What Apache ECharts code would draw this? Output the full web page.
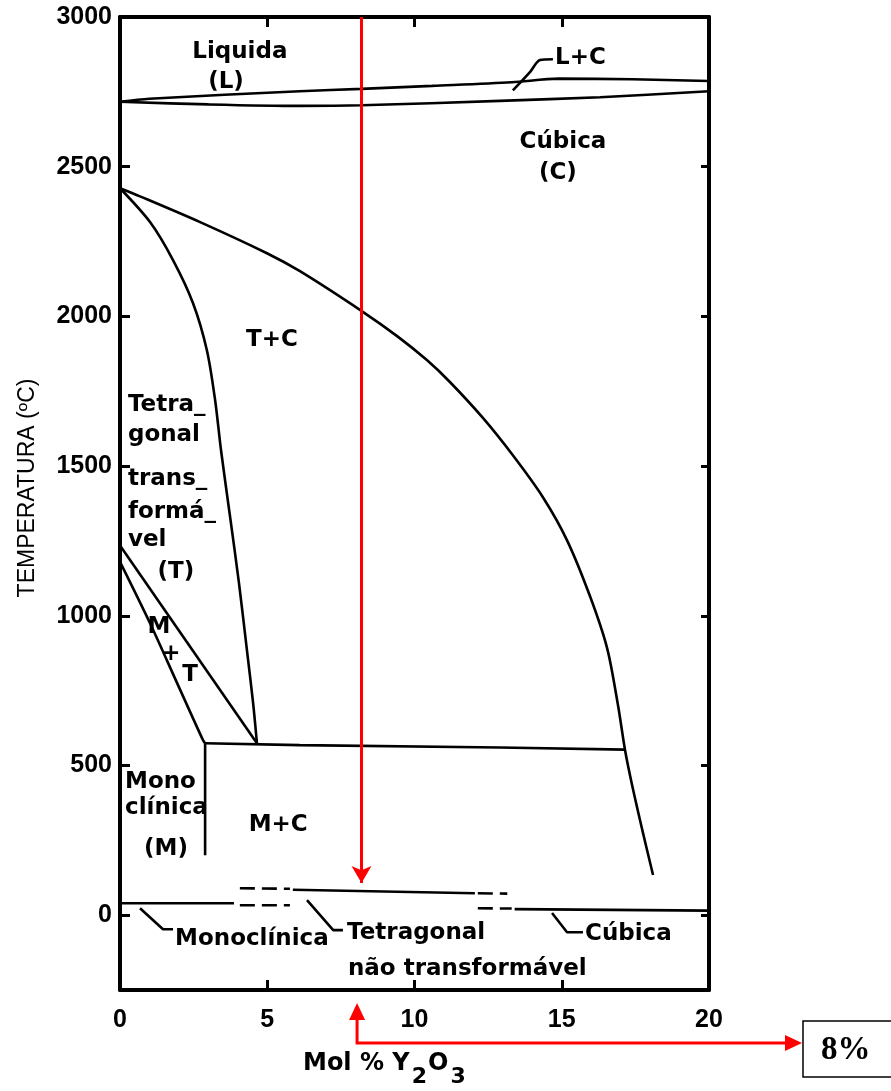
<!DOCTYPE html>
<html lang="pt">
<head>
<meta charset="UTF-8">
<title>Diagrama de fases ZrO2 - Y2O3</title>
<script src="https://cdn.jsdelivr.net/npm/echarts@6/dist/echarts.min.js"></script>
<style>
    html, body { margin: 0; padding: 0; background: #fff; }
    #chart { width: 891px; height: 1091px; }
</style>
</head>
<body>
<div id="chart"></div>
<script>
const xMin = 0, xMax = 20;
const yMin = -250, yMax = 3000;

// liquidus / solidus (faixa L+C)
const liquidus = [[0, 2717], [1, 2727], [6.1, 2752], [8.2, 2760], [10.6, 2770], [13.3, 2782], [14.9, 2794], [17.4, 2792], [20, 2786]];
const solidus = [[0, 2717], [3, 2708], [6.1, 2703], [8.2, 2705], [12.9, 2720], [16.3, 2732], [20, 2752]];

// limite T+C / C
const cubicBoundary = [[0, 2428], [0.68, 2401], [2.72, 2315], [4.99, 2211], [6.11, 2151], [8.22, 2017], [9.41, 1934],
    [10.42, 1854], [11.21, 1780], [12.33, 1660], [13.34, 1536], [14.36, 1396], [15.18, 1252], [15.96, 1065],
    [16.54, 892], [16.91, 701], [17.15, 551], [17.39, 434], [17.76, 274], [18.1, 134]];

// limite T / T+C
const tetraBoundary = [[0, 2428], [1.02, 2315], [1.8, 2188], [2.48, 2044], [2.95, 1887], [3.23, 1720], [3.43, 1553],
    [3.74, 1329], [4.04, 1109], [4.31, 885], [4.52, 708], [4.65, 574]];

// faixa M+T
const mtUpper = [[0, 1235], [4.65, 574]];
const mtLower = [[0, 1180], [1.02, 975], [1.94, 775], [2.82, 584], [2.89, 574]];
const monoVertical = [[2.89, 574], [2.89, 200]];
const eutectoid = [[2.89, 574], [6.1, 568], [12.9, 560], [17.15, 553]];

// linhas de fase metaestável perto de 0 ºC
const monoSolid = [[0, 40], [3.87, 40]];
const monoDashed = [[4.07, 33], [5.77, 33]];
const tetraDashedLeft = [[4.07, 90], [5.77, 88]];
const tetraSolid = [[5.87, 85], [12.05, 73]];
const tetraDashedRight = [[12.15, 73], [13.15, 72]];
const cubicDashed = [[12.15, 23], [13.3, 22]];
const cubicSolid = [[13.4, 20], [20, 15]];

// linhas de chamada dos rótulos
const leaderLC = [[13.34, 2755], [13.92, 2816], [14.26, 2856], [14.7, 2859]];
const leaderMono = [[0.68, 23], [1.46, -47], [1.8, -47]];
const leaderTetra = [[6.35, 50], [7.24, -50], [7.57, -50]];
const leaderCubic = [[14.67, 7], [15.18, -57], [15.72, -57]];

// composição marcada
const markedX = 8.2;
const markedXLow = 8.05;
const markedArrowEnd = 107;

// rótulos das regiões: texto, x, y, alinhamento
const regionLabels = [
    ['Liquida', 4.07, 2882, 'center'],
    ['(L)', 3.6, 2782, 'center'],
    ['L+C', 14.77, 2862, 'left'],
    ['Cúbica', 15.04, 2582, 'center'],
    ['(C)', 14.87, 2478, 'center'],
    ['T+C', 5.16, 1920, 'center'],
    ['Tetra_', 0.27, 1703, 'left'],
    ['gonal', 0.27, 1603, 'left'],
    ['trans_', 0.27, 1456, 'left'],
    ['formá_', 0.27, 1346, 'left'],
    ['vel', 0.27, 1252, 'left'],
    ['(T)', 1.9, 1146, 'center'],
    ['M', 1.32, 962, 'center'],
    ['+', 1.73, 872, 'center'],
    ['T', 2.38, 802, 'center'],
    ['Mono', 0.17, 444, 'left'],
    ['clínica', 0.17, 357, 'left'],
    ['(M)', 1.56, 220, 'center'],
    ['M+C', 5.37, 301, 'center'],
    ['Monoclínica', 1.87, -80, 'left'],
    ['Tetragonal', 7.71, -60, 'left'],
    ['não transformável', 7.74, -180, 'left'],
    ['Cúbica', 15.79, -63, 'left']
];

const labelFont = 'DejaVu Sans';
const numFont = 'Liberation Sans';

function curve(data, smooth, dashed) {
    return {
        type: 'line',
        data: data,
        showSymbol: false,
        silent: true,
        smooth: smooth ? 0.3 : false,
        clip: false,
        lineStyle: { color: '#000', width: 2.6, type: dashed ? [15, 7] : 'solid' }
    };
}

let chart = echarts.init(document.getElementById('chart'), null, { renderer: 'canvas' });

let axisLine = { show: true, onZero: false, lineStyle: { color: '#000', width: 4 } };
let axisTick = { show: true, inside: true, length: 10, lineStyle: { color: '#000', width: 3 } };

let option = {
    animation: false,
    backgroundColor: '#fff',
    grid: { left: 120, right: 182, top: 17, bottom: 101 },
    xAxis: [{
        type: 'value', position: 'bottom', min: xMin, max: xMax, interval: 5,
        axisLine: axisLine, axisTick: axisTick, splitLine: { show: false },
        axisLabel: { color: '#000', fontFamily: numFont, fontWeight: 'bold', fontSize: 25, margin: 18 }
    }, {
        type: 'value', position: 'top', min: xMin, max: xMax, interval: 5,
        axisLine: axisLine, axisTick: axisTick, splitLine: { show: false },
        axisLabel: { show: false }
    }],
    yAxis: [{
        type: 'value', position: 'left', min: yMin, max: yMax, splitNumber: 5,
        axisLine: axisLine, axisTick: axisTick, splitLine: { show: false },
        axisLabel: {
            color: '#000', fontFamily: numFont, fontWeight: 'bold', fontSize: 25, margin: 8,
            showMinLabel: false, formatter: v => String(v)
        }
    }, {
        type: 'value', position: 'right', min: yMin, max: yMax, splitNumber: 5,
        axisLine: axisLine,
        axisTick: { show: true, inside: true, length: 8, lineStyle: { color: '#000', width: 3 } },
        splitLine: { show: false },
        axisLabel: { show: false }
    }],
    series: [
        curve(liquidus, true),
        curve(solidus, true),
        curve(cubicBoundary, true),
        curve(tetraBoundary, true),
        curve(mtUpper, false),
        curve(mtLower, true),
        curve(monoVertical, false),
        curve(eutectoid, false),
        curve(monoSolid, false),
        curve(monoDashed, false, true),
        curve(tetraDashedLeft, false, true),
        curve(tetraSolid, false),
        curve(tetraDashedRight, false, true),
        curve(cubicDashed, false, true),
        curve(cubicSolid, false),
        curve(leaderLC, true),
        curve(leaderMono, false),
        curve(leaderTetra, false),
        curve(leaderCubic, false),
        {
            type: 'scatter',
            silent: true,
            symbolSize: 0,
            itemStyle: { opacity: 1 },
            label: { show: true, color: '#000' },
            data: regionLabels.map(l => ({
                value: [l[1], l[2]],
                label: {
                    show: true, position: [0, 0], formatter: l[0],
                    align: l[3], verticalAlign: 'middle',
                    color: '#000', fontFamily: labelFont, fontWeight: 'bold', fontSize: 23
                }
            })),
            markLine: {
                silent: true,
                symbol: ['none', 'arrow'],
                symbolSize: [15, 17],
                label: { show: false },
                lineStyle: { color: '#ff0000', width: 3, type: 'solid', opacity: 1 },
                data: [[{ coord: [markedX, yMax] }, { coord: [markedX, markedArrowEnd] }]]
            }
        }
    ]
};
chart.setOption(option);

// anotações fora da área do gráfico
let px = chart.convertToPixel({ xAxisIndex: 0 }, markedXLow);
chart.setOption({
    graphic: [
        {
            type: 'text', x: 28, y: 488, rotation: Math.PI / 2,
            style: { text: 'TEMPERATURA (ºC)', fill: '#000', font: 'normal 23px "Liberation Sans"', align: 'center', verticalAlign: 'middle' }
        },
        {
            type: 'text', x: 303, y: 1052,
            style: {
                text: '{a|Mol % Y}{s|2}{a|O}{s|3}',
                rich: {
                    a: { fontFamily: labelFont, fontWeight: 'bold', fontSize: 24, fill: '#000', verticalAlign: 'top', lineHeight: 28 },
                    s: { fontFamily: labelFont, fontWeight: 'bold', fontSize: 22, fill: '#000', verticalAlign: 'top', lineHeight: 28, padding: [14, 1, 0, 2] }
                }
            }
        },
        {
            type: 'polyline',
            shape: { points: [[px, 1018], [px, 1043], [788, 1043]] },
            style: { stroke: '#ff0000', lineWidth: 3, fill: null }
        },
        {
            type: 'polygon',
            shape: { points: [[px, 1003], [px - 8, 1020], [px + 8, 1020]] },
            style: { fill: '#ff0000' }
        },
        {
            type: 'polygon',
            shape: { points: [[802, 1043], [785, 1035], [785, 1051]] },
            style: { fill: '#ff0000' }
        },
        {
            type: 'rect',
            shape: { x: 803, y: 1021, width: 100, height: 56 },
            style: { fill: '#fff', stroke: '#000', lineWidth: 1.5 }
        },
        {
            type: 'text', x: 821, y: 1050,
            style: { text: '8%', fill: '#000', font: 'bold 33px "Liberation Serif"', verticalAlign: 'middle' }
        }
    ]
});
</script>
</body>
</html>
